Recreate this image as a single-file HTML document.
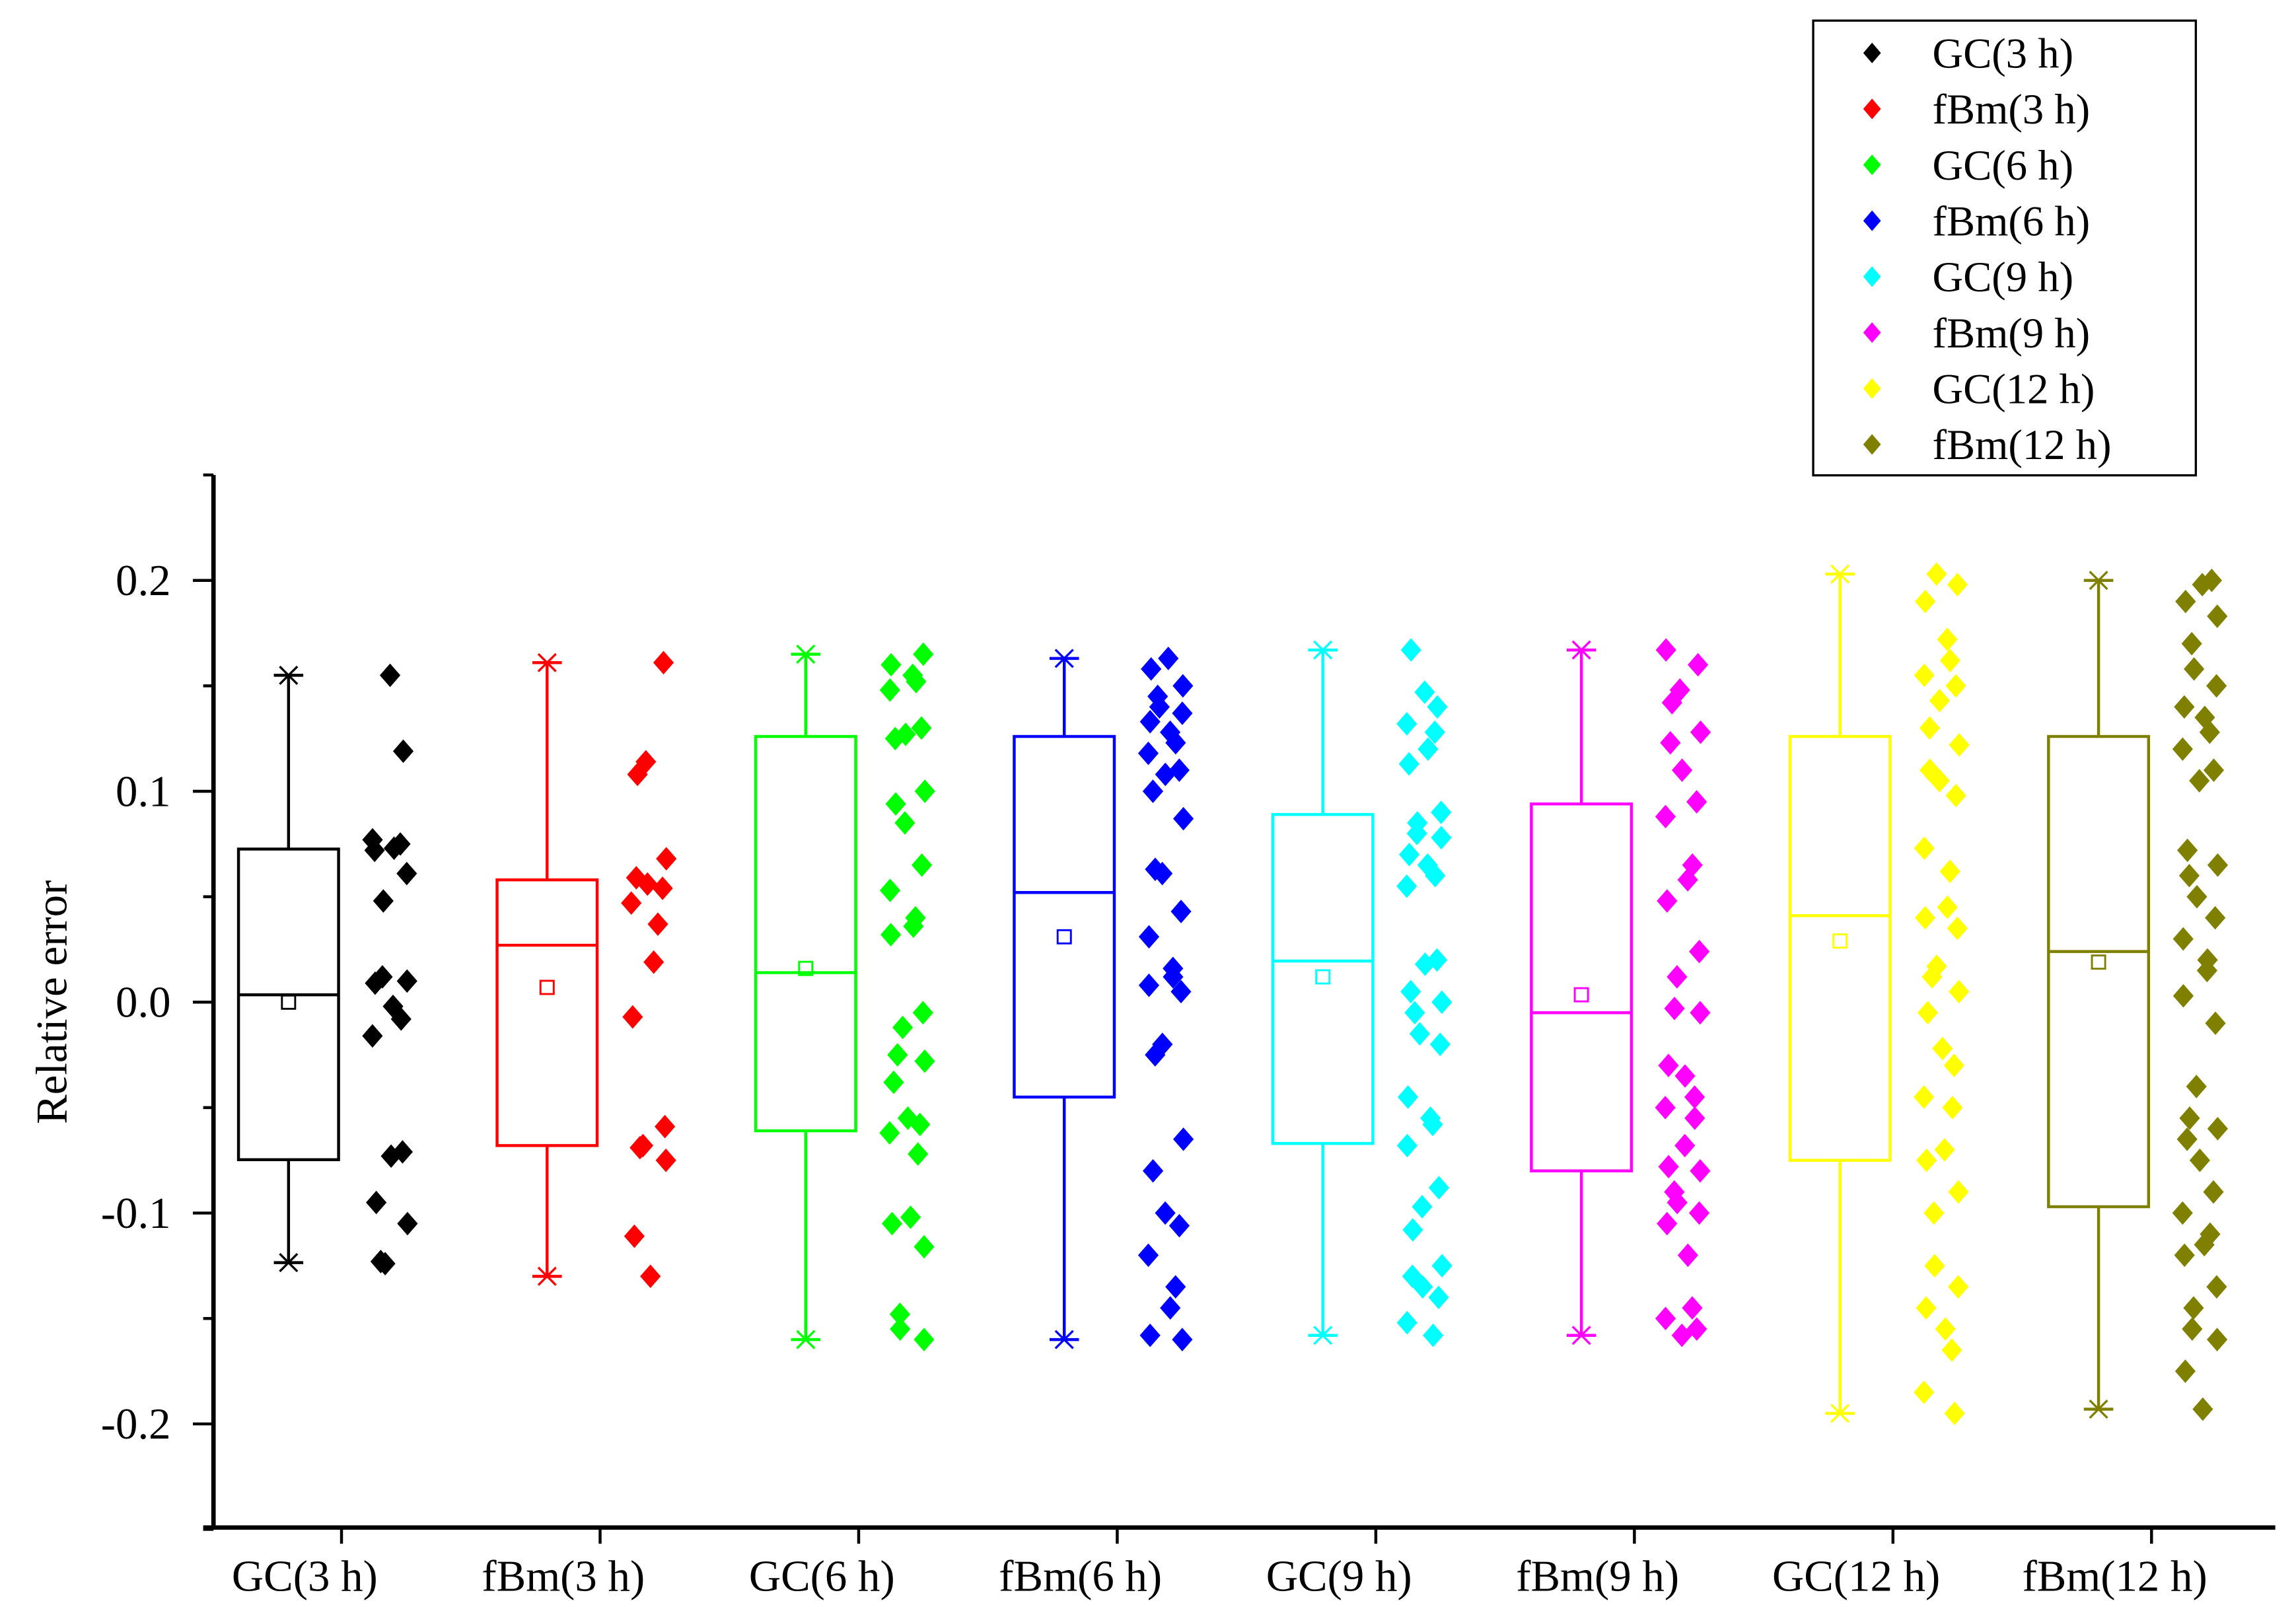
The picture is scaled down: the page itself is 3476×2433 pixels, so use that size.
<!DOCTYPE html>
<html><head><meta charset="utf-8"><style>
html,body{margin:0;padding:0;background:#fff;}
svg{display:block;}
text{font-family:"Liberation Serif",serif;fill:#000;}
</style></head><body>
<svg id="chart" width="3476" height="2433" viewBox="0 0 1560 1092" xmlns="http://www.w3.org/2000/svg">
<g id="plot"></g>
</svg>
<script>
const categories=["GC(3 h)","fBm(3 h)","GC(6 h)","fBm(6 h)","GC(9 h)","fBm(9 h)","GC(12 h)","fBm(12 h)"];
const colors=["#000000","#ff0000","#00ff00","#0000ff","#00ffff","#ff00ff","#ffff00","#808000"];
const whiskerTop=[0.155,0.161,0.165,0.163,0.167,0.167,0.203,0.200];
const q3=[0.0726,0.058,0.126,0.126,0.089,0.094,0.126,0.126];
const median=[0.0035,0.027,0.014,0.052,0.0195,-0.005,0.041,0.024];
const q1=[-0.0747,-0.068,-0.061,-0.045,-0.067,-0.080,-0.075,-0.097];
const whiskerBottom=[-0.1235,-0.130,-0.160,-0.160,-0.158,-0.158,-0.195,-0.193];
const means=[0.0,0.007,0.016,0.031,0.012,0.0035,0.029,0.019];
const pointsGC3=[0.155,0.119,0.077,0.075,0.073,0.072,0.061,0.048,0.012,0.010,0.009,-0.002,-0.008,-0.016,-0.071,-0.073,-0.095,-0.105,-0.123,-0.124];
const pointsFBm3=[0.161,0.114,0.108,0.068,0.059,0.056,0.054,0.047,0.037,0.019,-0.007,-0.059,-0.068,-0.069,-0.075,-0.111,-0.130];
const pointsGC6=[0.165,0.16,0.155,0.152,0.148,0.13,0.127,0.125,0.1,0.094,0.085,0.065,0.053,0.04,0.036,0.032,-0.005,-0.012,-0.025,-0.028,-0.038,-0.055,-0.058,-0.062,-0.072,-0.102,-0.105,-0.116,-0.148,-0.155,-0.16];
const pointsFBm6=[0.163,0.158,0.15,0.145,0.14,0.137,0.133,0.128,0.123,0.118,0.11,0.108,0.1,0.087,0.063,0.061,0.043,0.031,0.016,0.012,0.008,0.005,-0.02,-0.025,-0.065,-0.08,-0.1,-0.106,-0.12,-0.135,-0.145,-0.158,-0.16];
const pointsGC9=[0.167,0.147,0.14,0.132,0.128,0.12,0.113,0.09,0.085,0.08,0.078,0.07,0.065,0.06,0.055,0.02,0.018,0.005,0.0,-0.005,-0.015,-0.02,-0.045,-0.055,-0.058,-0.068,-0.088,-0.097,-0.108,-0.125,-0.13,-0.135,-0.14,-0.152,-0.158];
const pointsFBm9=[0.167,0.16,0.148,0.142,0.128,0.123,0.11,0.095,0.088,0.065,0.058,0.048,0.024,0.012,-0.003,-0.005,-0.03,-0.035,-0.045,-0.05,-0.055,-0.068,-0.078,-0.08,-0.09,-0.095,-0.1,-0.105,-0.12,-0.145,-0.15,-0.155,-0.158];
const pointsGC12=[0.203,0.198,0.19,0.172,0.162,0.155,0.15,0.143,0.13,0.122,0.11,0.105,0.098,0.073,0.062,0.045,0.04,0.035,0.017,0.012,0.005,-0.005,-0.022,-0.03,-0.045,-0.05,-0.07,-0.075,-0.09,-0.1,-0.125,-0.135,-0.145,-0.155,-0.165,-0.185,-0.195];
const pointsFBm12=[0.2,0.198,0.19,0.183,0.17,0.158,0.15,0.14,0.135,0.128,0.12,0.11,0.105,0.072,0.065,0.06,0.05,0.04,0.03,0.02,0.015,0.003,-0.01,-0.04,-0.055,-0.06,-0.065,-0.075,-0.09,-0.1,-0.11,-0.115,-0.12,-0.135,-0.145,-0.155,-0.16,-0.175,-0.193];
const allPoints=[pointsGC3,pointsFBm3,pointsGC6,pointsFBm6,pointsGC9,pointsFBm9,pointsGC12,pointsFBm12];
const yTicks=[0.2,0.1,0.0,-0.1,-0.2];
const yTickLabels=["0.2","0.1","0.0","-0.1","-0.2"];

const NS="http://www.w3.org/2000/svg";
const g=document.getElementById('plot');
const Y0=681,PX=1433,yMin=-0.25,yMax=0.25;
function yScale(v){return Y0-v*PX;}
function xScale(i){return 196+i*175.7;}
function mk(tag,attrs,parent){const e=document.createElementNS(NS,tag);for(const k in attrs)e.setAttribute(k,attrs[k]);(parent||g).appendChild(e);return e;}

// axes
const ax=mk('line',{x1:145,y1:yScale(yMax),x2:145,y2:1039,stroke:'#000','stroke-width':3});


const bx=mk('line',{x1:138,y1:1038,x2:1546,y2:1038,stroke:'#000','stroke-width':3});


for(let v=-0.25;v<=0.2501;v+=0.05){
  const major=Math.abs(Math.round(v*100)%10)===0;
  const t=mk('line',{x1:major?131:138,y1:yScale(v),x2:145,y2:yScale(v),stroke:'#000','stroke-width':2});
  
  
}
yTicks.forEach((v,i)=>{
  const t=mk('text',{x:116,y:yScale(v)+10,'text-anchor':'end','font-size':30});
  t.textContent=yTickLabels[i];
  
  
});
const yt=mk('text',{x:0,y:0,'font-size':30,'text-anchor':'middle',transform:'translate(45,681) rotate(-90)'});
yt.textContent='Relative error';



categories.forEach((c,i)=>{
  const cx=xScale(i),col=colors[i];
  const tk=mk('line',{x1:cx+36,y1:1038,x2:cx+36,y2:1049,stroke:'#000','stroke-width':2});
  
  
  const lb=mk('text',{x:cx+11,y:1081,'text-anchor':'middle','font-size':30});
  lb.textContent=c;
  
  
  const grp=mk('g',{});
  
  
  mk('line',{x1:cx,y1:yScale(whiskerTop[i]),x2:cx,y2:yScale(q3[i]),stroke:col,'stroke-width':2},grp);
  mk('line',{x1:cx,y1:yScale(q1[i]),x2:cx,y2:yScale(whiskerBottom[i]),stroke:col,'stroke-width':2},grp);
  [whiskerTop[i],whiskerBottom[i]].forEach(v=>{
    const y=yScale(v);
    mk('line',{x1:cx-10,y1:y,x2:cx+10,y2:y,stroke:col,'stroke-width':2},grp);
    mk('line',{x1:cx-6,y1:y-6,x2:cx+6,y2:y+6,stroke:col,'stroke-width':1.5},grp);
    mk('line',{x1:cx-6,y1:y+6,x2:cx+6,y2:y-6,stroke:col,'stroke-width':1.5},grp);
  });
  mk('rect',{x:cx-34,y:yScale(q3[i]),width:68,height:yScale(q1[i])-yScale(q3[i]),fill:'none',stroke:col,'stroke-width':2},grp);
  mk('line',{x1:cx-34,y1:yScale(median[i]),x2:cx+34,y2:yScale(median[i]),stroke:col,'stroke-width':2},grp);
  mk('rect',{x:cx-4.5,y:yScale(means[i])-4.5,width:9,height:9,fill:'none',stroke:col,'stroke-width':1.3},grp);
  allPoints[i].forEach((v,j)=>{
    const jx=cx+69+Math.sin(j*2.3+i)*12;
    const y=yScale(v);
    const p=mk('polygon',{points:`${jx},${y-8} ${jx+7},${y} ${jx},${y+8} ${jx-7},${y}`,fill:col});
    
    
  });
});

// legend
const lg=mk('g',{});


mk('rect',{x:1232,y:14,width:260,height:309,fill:'#fff',stroke:'#000','stroke-width':1.5},lg);
categories.forEach((c,i)=>{
  const y=36+i*38;
  const e=mk('g',{},lg);
  
  
  mk('polygon',{points:`1272,${y-7} 1278,${y} 1272,${y+7} 1266,${y}`,fill:colors[i]},e);
  const t=mk('text',{x:1313,y:y+10,'font-size':29},e);
  t.textContent=c;
});
</script>
</body></html>
